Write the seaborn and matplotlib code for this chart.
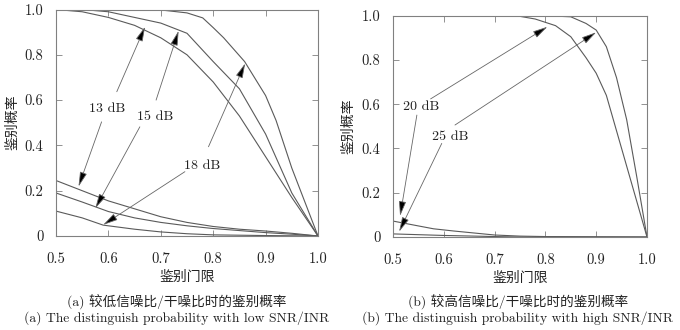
import numpy as np
import pandas as pd
import matplotlib
matplotlib.use("Agg")
import matplotlib.pyplot as plt
import seaborn as sns

# ---------------- data ----------------
# left panel (low SNR/INR): upper curves
x_up13 = [0.5, 0.55, 0.6, 0.65, 0.7, 0.75, 0.8, 0.85, 0.9, 0.95, 1.0]
y_up13 = [1.0, 0.99, 0.965, 0.93, 0.875, 0.80, 0.68, 0.53, 0.35, 0.17, 0.0]
x_up15 = [0.5, 0.55, 0.6, 0.65, 0.7, 0.75, 0.8, 0.85, 0.9, 0.95, 1.0]
y_up15 = [1.0, 1.0, 0.99, 0.965, 0.94, 0.895, 0.77, 0.65, 0.45, 0.19, 0.0]
x_up18 = [0.5, 0.6, 0.7, 0.75, 0.78, 0.8, 0.82, 0.86, 0.9, 0.92, 0.95, 1.0]
y_up18 = [1.0, 1.0, 0.998, 0.985, 0.963, 0.92, 0.875, 0.77, 0.62, 0.51, 0.30, 0.0]
# left panel: lower curves
x_lo13 = [0.5, 0.55, 0.6, 0.65, 0.7, 0.75, 0.8, 0.85, 0.9, 0.95, 1.0]
y_lo13 = [0.245, 0.20, 0.155, 0.12, 0.085, 0.06, 0.042, 0.03, 0.022, 0.012, 0.0]
x_lo15 = [0.5, 0.55, 0.6, 0.65, 0.7, 0.75, 0.8, 0.85, 0.9, 0.95, 1.0]
y_lo15 = [0.19, 0.15, 0.108, 0.08, 0.06, 0.045, 0.033, 0.024, 0.015, 0.008, 0.0]
x_lo18 = [0.5, 0.55, 0.59, 0.65, 0.7, 0.75, 0.8, 0.9, 1.0]
y_lo18 = [0.11, 0.08, 0.048, 0.03, 0.018, 0.01, 0.005, 0.002, 0.0]

# right panel (high SNR/INR)
x_up20 = [0.5, 0.7, 0.75, 0.78, 0.8, 0.82, 0.85, 0.88, 0.9, 0.92, 0.94, 0.97, 1.0]
y_up20 = [1.0, 1.0, 0.997, 0.985, 0.97, 0.955, 0.905, 0.81, 0.74, 0.64, 0.48, 0.24, 0.0]
x_up25 = [0.5, 0.8, 0.85, 0.88, 0.9, 0.92, 0.94, 0.96, 0.98, 1.0]
y_up25 = [1.0, 1.0, 0.995, 0.965, 0.935, 0.86, 0.72, 0.53, 0.27, 0.0]
x_lo20 = [0.5, 0.55, 0.58, 0.62, 0.66, 0.7, 0.75, 0.8, 0.9, 1.0]
y_lo20 = [0.072, 0.05, 0.037, 0.027, 0.018, 0.009, 0.004, 0.002, 0.001, 0.0]
x_lo25 = [0.5, 0.6, 0.7, 0.75, 1.0]
y_lo25 = [0.014, 0.007, 0.002, 0.0, 0.0]

x_ticks = [0.5, 0.6, 0.7, 0.8, 0.9, 1.0]
x_ticklabels = ["0.5", "0.6", "0.7", "0.8", "0.9", "1.0"]
y_ticks = [0.0, 0.2, 0.4, 0.6, 0.8, 1.0]
y_ticklabels = ["0", "0.2", "0.4", "0.6", "0.8", "1.0"]

xlabel = "鉴别门限"
ylabel = "鉴别概率"
cap_a1 = "(a) 较低信噪比/干噪比时的鉴别概率"
cap_a2 = "(a) The distinguish probability with low SNR/INR"
cap_b1 = "(b) 较高信噪比/干噪比时的鉴别概率"
cap_b2 = "(b) The distinguish probability with high SNR/INR"

left_labels = ["13 dB", "15 dB", "18 dB"]
right_labels = ["20 dB", "25 dB"]

# ---------------- style ----------------
sns.set_theme(style="white")
SERIF = ["cmr10", "DejaVu Serif"]
MIX = ["cmr10", "Noto Sans CJK SC", "DejaVu Sans"]
plt.rcParams["font.family"] = MIX
plt.rcParams["axes.formatter.use_mathtext"] = True
plt.rcParams["axes.unicode_minus"] = False

LINE = "#5a5a5a"
SPINE = "#808080"
TXT = "#222222"

fig = plt.figure(figsize=(6.8, 3.3), dpi=100)
axL = fig.add_axes([56 / 680, 94 / 330, 262 / 680, 226.5 / 330])
axR = fig.add_axes([393 / 680, 93 / 330, 254 / 680, 221.3 / 330])


def draw(ax, curves):
    for xs, ys in curves:
        df = pd.DataFrame({"x": xs, "y": ys})
        sns.lineplot(data=df, x="x", y="y", ax=ax, color=LINE, lw=0.8,
                     estimator=None, sort=False, legend=False)


draw(axL, [(x_up13, y_up13), (x_up15, y_up15), (x_up18, y_up18),
           (x_lo13, y_lo13), (x_lo15, y_lo15), (x_lo18, y_lo18)])
draw(axR, [(x_up20, y_up20), (x_up25, y_up25),
           (x_lo20, y_lo20), (x_lo25, y_lo25)])

for ax, ylx, xly in ((axL, -37 / 262, -34 / 226.5), (axR, -37 / 254, -34 / 221.3)):
    ax.set_xlim(0.5, 1.0)
    ax.set_ylim(0.0, 1.0)
    ax.set_xticks(x_ticks)
    ax.set_xticklabels(x_ticklabels, family=SERIF, fontsize=10.5)
    ax.set_yticks(y_ticks)
    ax.set_yticklabels(y_ticklabels, family=SERIF, fontsize=10.5)
    ax.tick_params(direction="in", length=4, width=0.6, color=SPINE,
                   top=True, right=True, bottom=True, left=True,
                   labelcolor=TXT)
    ax.tick_params(axis="x", pad=11.5)
    ax.tick_params(axis="y", pad=9)
    for s in ax.spines.values():
        s.set_color(SPINE)
        s.set_linewidth(0.8)
    ax.set_xlabel(xlabel, family=["Noto Sans CJK SC"], fontsize=10,
                  color=TXT)
    ax.xaxis.set_label_coords(0.5, xly)
    ax.set_ylabel(ylabel, family=["Noto Sans CJK SC"], fontsize=10,
                  color=TXT)
    ax.yaxis.set_label_coords(ylx, 0.5)

ARROW = dict(arrowstyle="-|>,head_length=0.9,head_width=0.22",
             fc="black", ec="#666666", lw=0.6, shrinkA=0, shrinkB=0,
             mutation_scale=10)

# annotation layout (label position, arrows: (start, tip))
left_ann = [
    ((0.598, 0.563), [((0.616, 0.637), (0.670, 0.924)), ((0.587, 0.504), (0.543, 0.218))]),
    ((0.689, 0.526), [((0.691, 0.600), (0.734, 0.906)), ((0.660, 0.482), (0.575, 0.122))]),
    ((0.778, 0.310), [((0.791, 0.394), (0.861, 0.762)), ((0.746, 0.284), (0.590, 0.049))]),
]
right_ann = [
    ((0.556, 0.587), [((0.574, 0.624), (0.804, 0.950)), ((0.547, 0.551), (0.514, 0.095))]),
    ((0.612, 0.453), [((0.622, 0.506), (0.900, 0.925)), ((0.596, 0.423), (0.512, 0.024))]),
]

for ax, labels, anns in ((axL, left_labels, left_ann), (axR, right_labels, right_ann)):
    for lab, (pos, arrows) in zip(labels, anns):
        ax.text(pos[0], pos[1], lab, family=SERIF, fontsize=10, ha="center",
                va="center", color=TXT)
        for start, tip in arrows:
            ax.annotate("", xy=tip, xytext=start, arrowprops=ARROW)

CAP = 9.8
fig.text(177 / 680, 1 - 302 / 330, cap_a1, ha="center", va="center",
         fontsize=CAP, family=MIX, color=TXT)
fig.text(177 / 680, 1 - 318 / 330, cap_a2, ha="center", va="center",
         fontsize=CAP, family=MIX, color=TXT)
fig.text(518 / 680, 1 - 302 / 330, cap_b1, ha="center", va="center",
         fontsize=CAP, family=MIX, color=TXT)
fig.text(518 / 680, 1 - 318 / 330, cap_b2, ha="center", va="center",
         fontsize=CAP, family=MIX, color=TXT)

fig.savefig("out.png", dpi=100)
